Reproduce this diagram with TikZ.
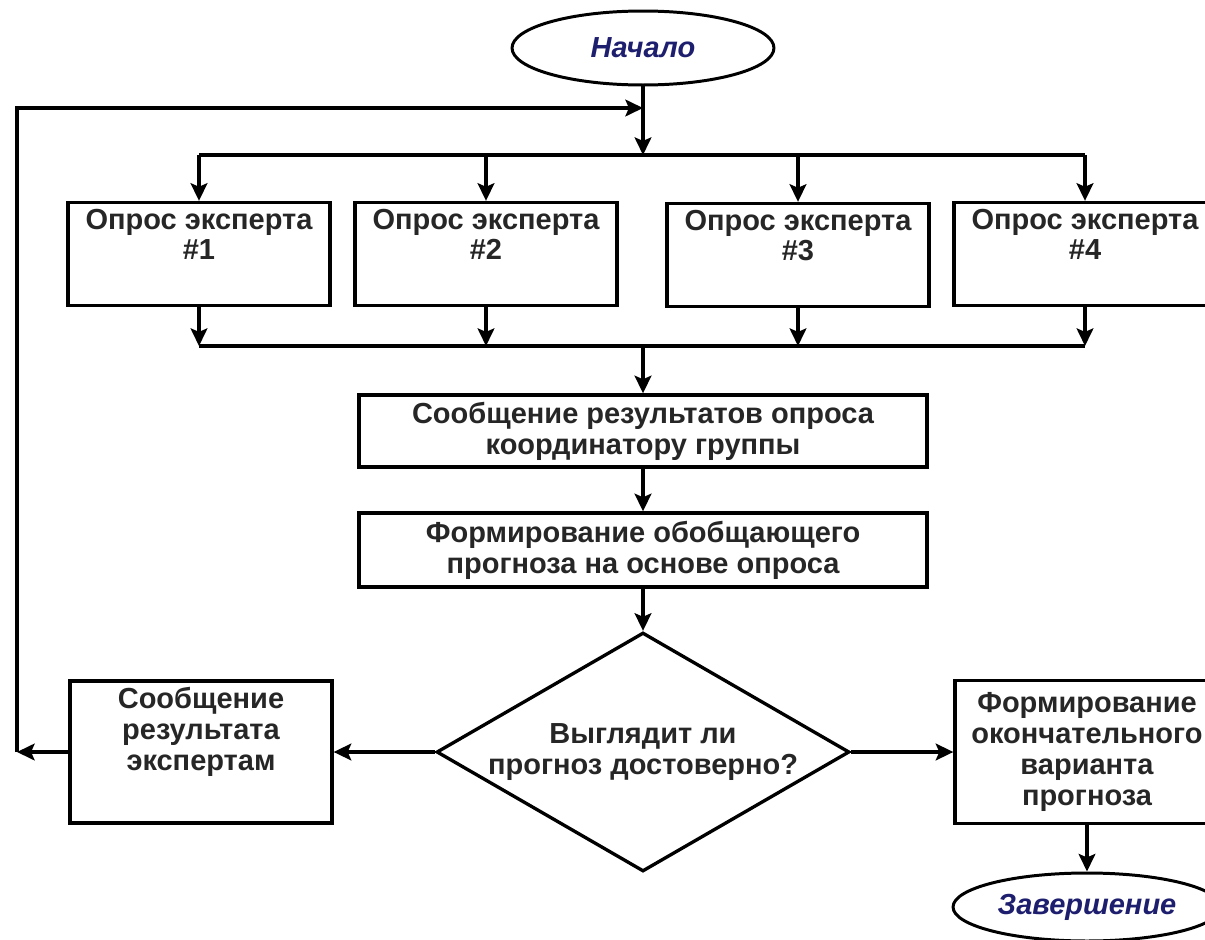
\documentclass[tikz,border=0pt]{standalone}
\usepackage{fontspec}
\setmainfont{Liberation Sans}
\usetikzlibrary{arrows,arrows.meta,shapes,calc,positioning}
\definecolor{termblue}{RGB}{30,30,110}

\begin{document}
\begin{tikzpicture}[x=0.02cm, y=-0.02cm]
		\tikzstyle{every node}=[font=\bfseries\fontsize{16.5}{17.5}\selectfont, text=black!85]
		\tikzstyle{block}=[draw, line width=1.9pt, rectangle, minimum width=5.24cm, minimum height=2.06cm, inner sep=0pt, align=center]
		\tikzstyle{term}=[draw, line width=1.7pt, ellipse, minimum width=5.24cm, minimum height=1.48cm, inner sep=0pt, font=\bfseries\itshape\fontsize{16.5}{17.5}\selectfont, text=termblue]
		\tikzstyle{intext}=[anchor=north, align=center, yshift=-1pt]
		\tikzstyle{arr}=[line width=1.9pt, -{Stealth[length=10pt,width=9.5pt,inset=2pt]}]
		\tikzstyle{line}=[line width=1.9pt]
		\useasboundingbox (0,0) rectangle (1205,940);
		\clip (0,0) rectangle (1205,940);
		% start and the four experts
		\node [term] (start) at (643,48) {Начало};
		\coordinate (j0) at (643,108);
		\coordinate (b1) at (643,155);
		\node [block, label={[intext]north:{Опрос эксперта\\\#1}}] (e1) at (199,254) {};
		\node [block, label={[intext]north:{Опрос эксперта\\\#2}}] (e2) at (486,254) {};
		\node [block, label={[intext]north:{Опрос эксперта\\\#3}}] (e3) at (798,255) {};
		\node [block, label={[intext]north:{Опрос эксперта\\\#4}}] (e4) at (1085,254) {};
		\coordinate (b2) at (643,346);
		% coordinator
		\node [block, minimum width=11.36cm, minimum height=1.44cm] (msg) at (643,431) {Сообщение результатов опроса\\координатору группы};
		\node [block, minimum width=11.36cm, minimum height=1.48cm] (gen) at (643,550) {Формирование обобщающего\\прогноза на основе опроса};
		\node [draw, line width=1.9pt, diamond, aspect=1.73, minimum width=8.26cm, minimum height=4.78cm, inner sep=0pt, align=center] (dec) at (643,752) {Выглядит ли\\прогноз достоверно?};
		\node [block, minimum height=2.84cm, label={[intext]north:{Сообщение\\результата\\экспертам}}] (back) at (201,752) {};
		\coordinate (corner) at (17,752);
		\node [block, minimum width=5.28cm, minimum height=2.86cm] (final) at (1087,752) {Формирование\\окончательного\\варианта\\прогноза};
		\node [term, minimum width=5.36cm, minimum height=1.36cm] (finish) at (1087,907) {Завершение};
		% connectors
		\draw [arr] (start) -- (b1);
		\draw [arr] (corner) |- (j0);
		\draw [line] (e1.north |- b1) -- (e4.north |- b1);
		\foreach \e in {e1,e2,e3,e4} \draw [arr] (\e.north |- b1) -- (\e.north);
		\foreach \e in {e1,e2,e3,e4} \draw [arr] (\e.south) -- (\e.south |- b2);
		\draw [line] (e1.south |- b2) -- (e4.south |- b2);
		\draw [arr] (b2) -- (msg);
		\draw [arr] (msg) -- (gen);
		\draw [arr] (gen) -- (dec);
		\draw [arr] (dec) -- (back);
		\draw [arr] (back) -- (corner);
		\draw [arr] (dec) -- (final);
		\draw [arr] (final) -- (finish);
\end{tikzpicture}
\end{document}
